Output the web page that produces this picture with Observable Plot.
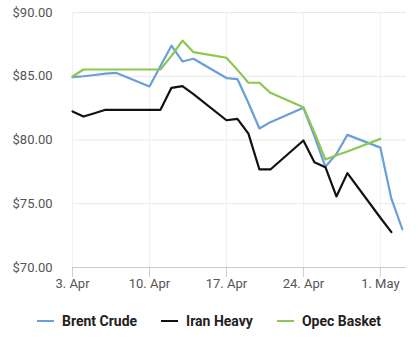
<!DOCTYPE html>
<html>
<head>
<meta charset="utf-8">
<script src="https://cdn.jsdelivr.net/npm/d3@7"></script>
<script src="https://cdn.jsdelivr.net/npm/@observablehq/plot@0.6"></script>
<style>
  html, body { margin: 0; padding: 0; background: #fff; }
  body { width: 418px; height: 352px; overflow: hidden; font-family: Roboto, "Noto Sans", sans-serif; }
  #legend { display: flex; justify-content: center; align-items: center; margin-top: 13px; font-weight: bold; font-size: 14px; color: #222; }
  .item { display: flex; align-items: center; margin: 0 12px; }
  .sw { width: 17px; height: 2px; margin-right: 8px; }
</style>
</head>
<body>
<div id="chart"></div>
<div id="legend"></div>
<script>
const dates = ["2023-04-03","2023-04-04","2023-04-05","2023-04-06","2023-04-07","2023-04-10","2023-04-11","2023-04-12","2023-04-13","2023-04-14","2023-04-17","2023-04-18","2023-04-19","2023-04-20","2023-04-21","2023-04-24","2023-04-25","2023-04-26","2023-04-27","2023-04-28","2023-05-01","2023-05-02","2023-05-03"];
const brentCrude = [84.93,85.0,85.1,85.2,85.26,84.2,85.8,87.4,86.16,86.37,84.86,84.78,82.9,80.9,81.4,82.53,80.3,77.9,78.9,80.4,79.4,75.4,73.0];
const iranHeavy  = [82.24,81.84,82.1,82.37,82.37,82.37,82.37,84.09,84.22,83.6,81.55,81.66,80.5,77.69,77.69,79.96,78.26,77.87,75.57,77.4,73.9,72.77,null];
const opecBasket = [84.98,85.53,85.53,85.53,85.53,85.53,85.53,86.6,87.8,86.89,86.45,85.5,84.49,84.49,83.7,82.56,80.6,78.47,78.8,79.1,80.09,null,null];
const seriesNames = ["Brent Crude","Iran Heavy","Opec Basket"];
const seriesColors = ["#6a9fd9","#111111","#8cc751"];
const xTicks = ["2023-04-03","2023-04-10","2023-04-17","2023-04-24","2023-05-01"];
const yTicks = [70,75,80,85,90];

const seriesValues = [brentCrude, iranHeavy, opecBasket];
const rows = [];
seriesValues.forEach((vals, s) => {
  vals.forEach((v, i) => {
    if (v != null) rows.push({date: new Date(dates[i] + "T00:00:00Z"), value: v, series: seriesNames[s]});
  });
});
const tickDates = xTicks.map(d => new Date(d + "T00:00:00Z"));

const chart = Plot.plot({
  width: 418,
  height: 300,
  marginLeft: 72,
  marginRight: 12,
  marginTop: 12,
  marginBottom: 33,
  style: {fontFamily: "Roboto, sans-serif", fontSize: "13px", background: "#fff"},
  x: {type: "utc", domain: [new Date("2023-04-03T00:00:00Z"), new Date("2023-05-03T09:00:00Z")]},
  y: {domain: [70, 90]},
  color: {domain: seriesNames, range: seriesColors},
  marks: [
    Plot.gridY(yTicks, {stroke: "#e9e9e9", strokeOpacity: 1}),
    Plot.gridX(tickDates, {stroke: "#f0f0f0", strokeOpacity: 1}),
    Plot.axisY(yTicks, {tickSize: 0, tickPadding: 20, tickFormat: d => "$" + d3.format(".2f")(d), fill: "#555", fontSize: 13, label: null}),
    Plot.axisX(tickDates, {tickSize: 10, tickPadding: 1, tickFormat: d3.utcFormat("%-d. %b"), stroke: "#ccc", strokeOpacity: 1, fill: "#555", fontSize: 13, label: null}),
    Plot.ruleY([70], {stroke: "#ccc"}),
    Plot.line(rows, {x: "date", y: "value", z: "series", stroke: "series", strokeWidth: 2.2, curve: "linear"})
  ]
});
document.getElementById("chart").appendChild(chart);

const legend = document.getElementById("legend");
seriesNames.forEach((n, i) => {
  const item = document.createElement("div");
  item.className = "item";
  const sw = document.createElement("span");
  sw.className = "sw";
  sw.style.background = seriesColors[i];
  const t = document.createElement("span");
  t.textContent = n;
  item.appendChild(sw);
  item.appendChild(t);
  legend.appendChild(item);
});
</script>
</body>
</html>
